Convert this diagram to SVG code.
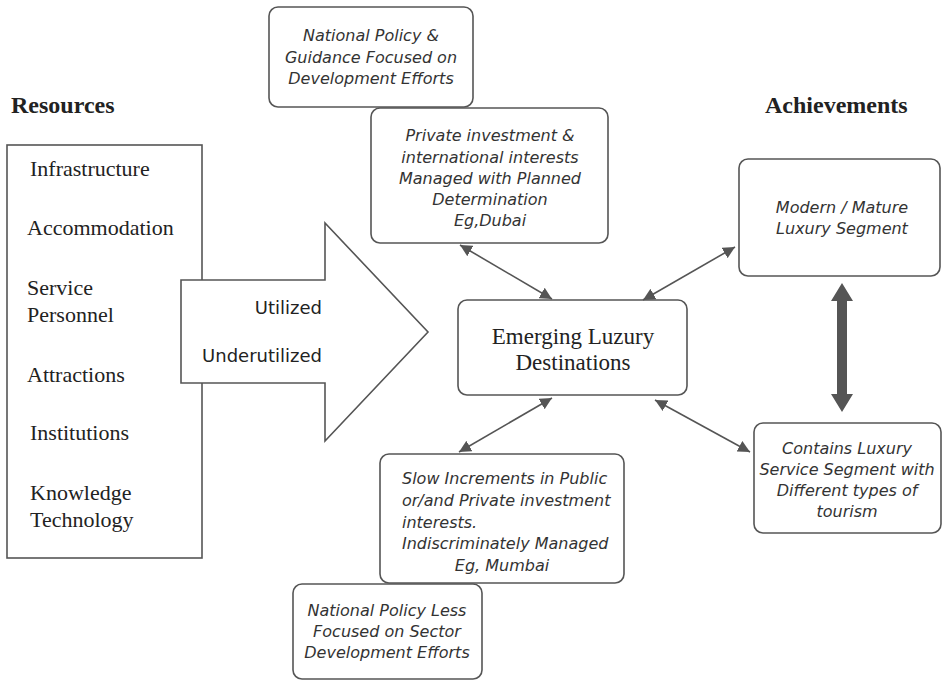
<svg xmlns="http://www.w3.org/2000/svg" width="943" height="680" viewBox="0 0 943 680">
<style>
.box{fill:#fff;stroke:#555;stroke-width:1.6}
.sq{fill:#fff;stroke:#555;stroke-width:1.6}
.serif{font-family:"Liberation Serif","Times New Roman",serif;fill:#222}
.head{font-family:"Liberation Serif","Times New Roman",serif;font-weight:bold;font-size:24px;fill:#222}
.it{font-family:"DejaVu Sans",Verdana,sans-serif;font-style:italic;font-size:16px;fill:#333;text-anchor:middle}
.sans{font-family:"DejaVu Sans",Verdana,sans-serif;font-size:18px;fill:#222;text-anchor:end}
.conn{stroke:#555;stroke-width:1.6;fill:none;marker-start:url(#ah);marker-end:url(#ah)}
</style>
<defs>
<marker id="ah" markerUnits="userSpaceOnUse" markerWidth="12" markerHeight="12" viewBox="0 0 12 12" refX="12" refY="6" orient="auto-start-reverse">
<path d="M0,0 L12,6 L0,12 z" fill="#555"/>
</marker>
</defs>
<rect width="943" height="680" fill="#fff"/>

<g id="resources-title"><text class="head" x="11" y="113">Resources</text></g>
<g id="achievements-title"><text class="head" x="765" y="113">Achievements</text></g>

<g id="resources">
<rect class="sq" x="7" y="145" width="195" height="413"/>
<text class="serif" font-size="22" x="30" y="176">Infrastructure</text>
<text class="serif" font-size="22" x="27" y="235">Accommodation</text>
<text class="serif" font-size="22" x="27" y="295">Service</text>
<text class="serif" font-size="22" x="27" y="322">Personnel</text>
<text class="serif" font-size="22" x="27" y="382">Attractions</text>
<text class="serif" font-size="22" x="30" y="440">Institutions</text>
<text class="serif" font-size="22" x="30" y="500">Knowledge</text>
<text class="serif" font-size="22" x="30" y="527">Technology</text>
</g>

<g id="big-arrow">
<polygon class="sq" points="181,280 325,280 325,223 428,332 325,441 325,383 181,383"/>
<text class="sans" x="322" y="314">Utilized</text>
<text class="sans" x="322" y="362">Underutilized</text>
</g>

<g id="national-policy">
<rect class="box" x="269" y="7" width="204" height="100" rx="9"/>
<text class="it" x="371" y="41">National Policy &amp;</text>
<text class="it" x="371" y="63">Guidance Focused on</text>
<text class="it" x="371" y="84">Development Efforts</text>
</g>

<g id="private-investment">
<rect class="box" x="371" y="108" width="237" height="135" rx="9"/>
<text class="it" x="490" y="141">Private investment &amp;</text>
<text class="it" x="490" y="163">international interests</text>
<text class="it" x="490" y="184">Managed with Planned</text>
<text class="it" x="490" y="205">Determination</text>
<text class="it" x="490" y="226">Eg,Dubai</text>
</g>

<g id="emerging">
<rect class="box" x="458" y="300" width="229" height="95" rx="9"/>
<text class="serif" font-size="23" text-anchor="middle" x="573" y="344">Emerging Luzury</text>
<text class="serif" font-size="23" text-anchor="middle" x="573" y="370">Destinations</text>
</g>

<g id="modern">
<rect class="box" x="739" y="159" width="201" height="117" rx="9"/>
<text class="it" x="842" y="213">Modern / Mature</text>
<text class="it" x="842" y="234">Luxury Segment</text>
</g>

<g id="contains">
<rect class="box" x="754" y="423" width="187" height="110" rx="9"/>
<text class="it" x="847" y="454">Contains Luxury</text>
<text class="it" x="847" y="475">Service Segment with</text>
<text class="it" x="847" y="496">Different types of</text>
<text class="it" x="847" y="517">tourism</text>
</g>

<g id="slow-increments">
<rect class="box" x="380" y="454" width="244" height="129" rx="9"/>
<text class="it" style="text-anchor:start" x="402" y="484">Slow Increments in Public</text>
<text class="it" style="text-anchor:start" x="402" y="506">or/and Private investment</text>
<text class="it" style="text-anchor:start" x="402" y="528">interests.</text>
<text class="it" style="text-anchor:start" x="402" y="549">Indiscriminately Managed</text>
<text class="it" x="502" y="571">Eg, Mumbai</text>
</g>

<g id="national-policy-less">
<rect class="box" x="293" y="584" width="189" height="95" rx="9"/>
<text class="it" x="387" y="616">National Policy Less</text>
<text class="it" x="387" y="637">Focused on Sector</text>
<text class="it" x="387" y="658">Development Efforts</text>
</g>

<g id="connectors">
<line class="conn" x1="460" y1="245" x2="552" y2="299"/>
<line class="conn" x1="643" y1="300" x2="735" y2="247"/>
<line class="conn" x1="552" y1="398" x2="459" y2="452"/>
<line class="conn" x1="655" y1="400" x2="750" y2="452"/>
<polygon fill="#555" points="842,283 853,301 847,301 847,394 853,394 842,412 831,394 837,394 837,301 831,301"/>
</g>
</svg>
